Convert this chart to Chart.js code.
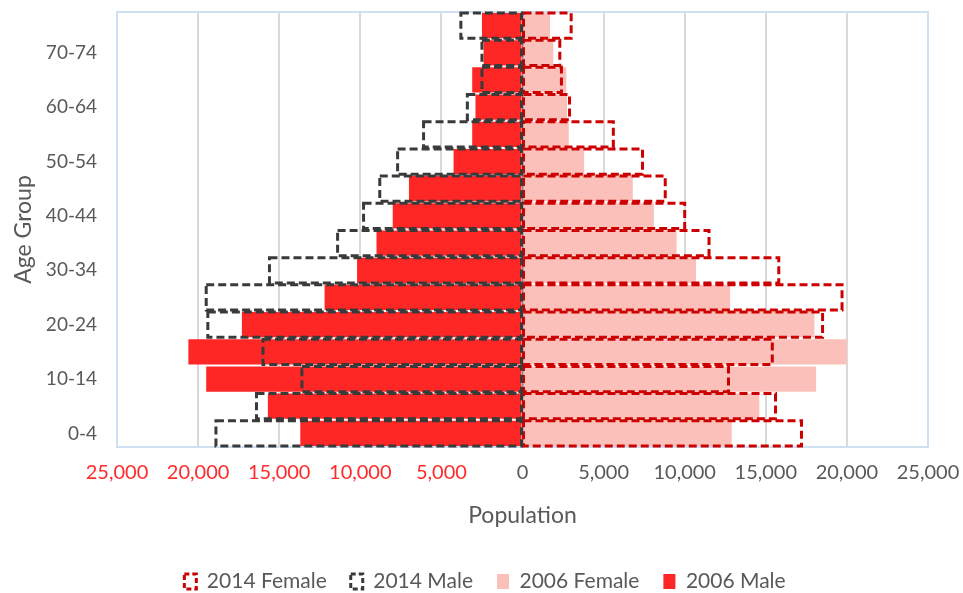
<!DOCTYPE html>
<html lang="en">
<head>
    <meta charset="UTF-8">
    <title>Population Pyramid</title>
    <script src="https://cdn.jsdelivr.net/npm/chart.js"></script>
    <style>
        body { margin: 0; background: #fff; }
        .container { width: 963px; height: 593px; }
    </style>
</head>
<body>
    <div class="container">
        <canvas id="pyramid" width="963" height="593"></canvas>
    </div>

    <script>
        // age groups, bottom to top
        const ageGroups = ['0-4', '5-9', '10-14', '15-19', '20-24', '25-29', '30-34', '35-39',
                           '40-44', '45-49', '50-54', '55-59', '60-64', '65-69', '70-74', '75+'];

        const female2014 = [17200, 15600, 12700, 15400, 18500, 19700, 15800, 11500,
                            10000, 8800, 7400, 5600, 2900, 2400, 2300, 3000];
        const male2014   = [18900, 16400, 13600, 16000, 19400, 19500, 15600, 11400,
                            9800, 8800, 7700, 6100, 3400, 2500, 2500, 3800];
        const female2006 = [12900, 14600, 18100, 20000, 18000, 12800, 10700, 9500,
                            8100, 6800, 3800, 2850, 2750, 2700, 1900, 1700];
        const male2006   = [13700, 15700, 19500, 20600, 17300, 12200, 10200, 9000,
                            8000, 7000, 4250, 3100, 2900, 3100, 2400, 2500];

        const FONT = 'Lato';
        const GREY = '#595959';

        // Chart.js bars have no dashed border, so outline the 2014 bars here
        const dashedBars = {
            id: 'dashedBars',
            afterDatasetsDraw(chart) {
                const ctx = chart.ctx;
                chart.data.datasets.forEach((ds, i) => {
                    if (!ds.dashColor) return;
                    const meta = chart.getDatasetMeta(i);
                    if (!chart.isDatasetVisible(i)) return;
                    ctx.save();
                    ctx.setLineDash([8, 4]);
                    ctx.lineWidth = 3;
                    ctx.strokeStyle = ds.dashColor;
                    meta.data.forEach(bar => {
                        const p = bar.getProps(['x', 'y', 'base', 'height'], true);
                        const left = Math.min(p.x, p.base);
                        ctx.strokeRect(left, p.y - p.height / 2, Math.abs(p.x - p.base), p.height);
                    });
                    ctx.restore();
                });
            }
        };

        // light blue frame round the plot area
        const plotFrame = {
            id: 'plotFrame',
            beforeDatasetsDraw(chart) {
                const a = chart.chartArea, ctx = chart.ctx;
                ctx.save();
                ctx.strokeStyle = '#CFE0F3';
                ctx.lineWidth = 2;
                ctx.strokeRect(a.left, a.top, a.right - a.left, a.bottom - a.top);
                ctx.restore();
            }
        };

        // keep the legend band short and nudge it right, as in the original
        const legendTweak = {
            id: 'legendTweak',
            beforeInit(chart) {
                const lg = chart.legend;
                if (!lg) return;
                const fit = lg.fit;
                lg.fit = function () { fit.call(this); this.height = 46; };
            },
            beforeDraw(chart) {
                const lg = chart.legend;
                if (!lg || lg._shifted) return;
                lg.left += 18;
                lg.right += 18;
                lg._shifted = true;
            }
        };

        const neg = arr => arr.map(v => -v);

        const ctx = document.getElementById('pyramid').getContext('2d');
        new Chart(ctx, {
            type: 'bar',
            data: {
                labels: ageGroups,
                datasets: [
                    { label: '2014 Female', data: female2014, backgroundColor: 'rgba(0,0,0,0)',
                      borderWidth: 0, dashColor: '#CC0000' },
                    { label: '2014 Male', data: neg(male2014), backgroundColor: 'rgba(0,0,0,0)',
                      borderWidth: 0, dashColor: '#3A3A3A' },
                    { label: '2006 Female', data: female2006, backgroundColor: '#FBC0BA' },
                    { label: '2006 Male', data: neg(male2006), backgroundColor: '#FF2626' }
                ]
            },
            options: {
                indexAxis: 'y',
                responsive: false,
                animation: false,
                layout: { padding: { top: 12, right: 35, left: 6, bottom: 0 } },
                datasets: {
                    bar: { grouped: false, barPercentage: 0.93, categoryPercentage: 1 }
                },
                scales: {
                    x: {
                        min: -25000,
                        max: 25000,
                        ticks: {
                            stepSize: 5000,
                            padding: 14,
                            font: { family: FONT, size: 20 },
                            color: c => c.tick && c.tick.value < 0 ? '#FF2B2B' : GREY,
                            callback: v => Math.abs(v).toLocaleString('en-US')
                        },
                        grid: {
                            color: c => c.tick && c.tick.value === 0 ? '#8C8C8C' : '#D9D9D9',
                            lineWidth: 2,
                            drawTicks: false
                        },
                        border: { display: false },
                        title: {
                            display: true,
                            text: 'Population',
                            color: GREY,
                            font: { family: FONT, size: 23 },
                            padding: { top: 4, bottom: 18 }
                        },
                        afterFit: s => {
                            s.height = 100;
                            s.paddingLeft = 0;
                            s.paddingRight = 0;
                        }
                    },
                    y: {
                        reverse: true,
                        ticks: {
                            autoSkip: false,
                            padding: 12,
                            color: GREY,
                            font: { family: FONT, size: 19 },
                            callback: function (v, i) { return i % 2 === 0 ? this.getLabelForValue(v) : ''; }
                        },
                        grid: { display: false },
                        border: { display: false },
                        title: {
                            display: true,
                            text: 'Age Group',
                            color: GREY,
                            font: { family: FONT, size: 23 },
                            padding: 4
                        },
                        afterFit: s => {
                            s.width = 111;
                            s.paddingTop = 0;
                            s.paddingBottom = 0;
                        }
                    }
                },
                plugins: {
                    tooltip: { enabled: false },
                    legend: {
                        position: 'bottom',
                        labels: {
                            color: GREY,
                            font: { family: FONT, size: 21 },
                            boxWidth: 12,
                            boxHeight: 15,
                            padding: 24,
                            generateLabels: chart => chart.data.datasets.map((ds, i) => ({
                                text: ds.label,
                                datasetIndex: i,
                                fillStyle: ds.dashColor ? '#FFFFFF' : ds.backgroundColor,
                                strokeStyle: ds.dashColor || ds.backgroundColor,
                                lineWidth: ds.dashColor ? 3 : 0,
                                lineDash: ds.dashColor ? [5, 3] : [],
                                fontColor: GREY,
                                hidden: !chart.isDatasetVisible(i)
                            }))
                        }
                    }
                }
            },
            plugins: [plotFrame, dashedBars, legendTweak]
        });
    </script>
</body>
</html>
